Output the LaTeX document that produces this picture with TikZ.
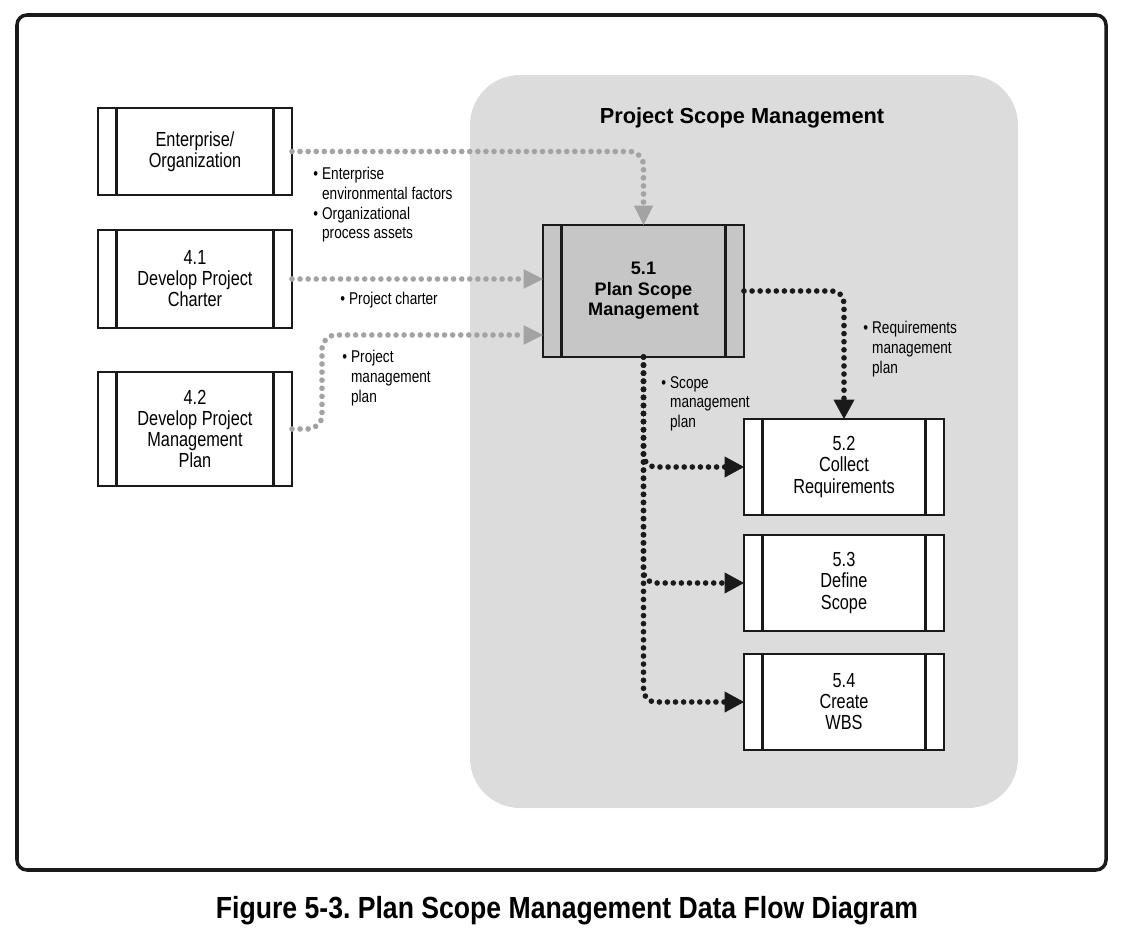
\documentclass[tikz,border=0pt]{standalone}
\usepackage{fontspec}
\setmainfont{Liberation Sans}
\newfontfamily\narrowfont[FakeStretch=0.8]{Liberation Sans}
\newfontfamily\capfont[FakeStretch=0.87]{Liberation Sans}
\usetikzlibrary{arrows.meta}
\frenchspacing

\definecolor{areagray}{HTML}{DCDCDC}
\definecolor{boxgray}{HTML}{C6C6C6}
\definecolor{flowgray}{HTML}{A3A3A3}
\definecolor{flowblack}{HTML}{1A1A1A}

\newcommand{\bul}{\makebox[5pt][l]{\textbullet}}
\newcommand{\nobul}{\hspace*{5pt}}

\tikzset{
    process/.style={draw=flowblack, line width=1.6pt, fill=white, inner sep=0, outer sep=0,
                    minimum width=3.88cm, align=center,
                    font=\narrowfont\fontsize{11.6}{12}\selectfont},
    note/.style={anchor=north west, inner sep=0, align=left,
                 font=\narrowfont\fontsize{9.7}{11.2}\selectfont},
    grayflow/.style={draw=flowgray, line width=3.2pt, line cap=round,
                     dash pattern=on 0pt off 4.6pt, rounded corners=0.28cm,
                     -{Triangle[length=11pt, width=11pt, fill=flowgray, line width=0pt]}},
    blackflow/.style={draw=flowblack, line width=3.2pt, line cap=round,
                      dash pattern=on 0pt off 4.6pt, rounded corners=0.24cm,
                      -{Triangle[length=11pt, width=12pt, fill=flowblack, line width=0pt]}}
}

\begin{document}
\begin{tikzpicture}[x=0.02cm, y=-0.02cm]
        \useasboundingbox (0, 0) rectangle (1133, 945);

        % Frame:
        \draw[line width=2pt, color=flowblack, rounded corners=0.2cm] (17, 15) rectangle (1106, 870);

        % Scope area:
        \fill[areagray, rounded corners=1cm] (470, 75) rectangle (1018, 808);
        \node[font=\bfseries\fontsize{12.4}{14}\selectfont] (title) at (742, 118) {Project Scope Management};

        % Processes:
        \node[process, minimum height=1.74cm] (ent) at (195, 151.5) {Enterprise/\\Organization};
        \node[process, minimum height=1.96cm] (c41) at (195, 279) {4.1\\Develop Project\\Charter};
        \node[process, minimum height=2.28cm] (c42) at (195, 429) {4.2\\Develop Project\\Management\\Plan};
        \node[process, fill=boxgray, minimum width=4.02cm, minimum height=2.64cm,
              font=\bfseries\fontsize{10.3}{11.6}\selectfont] (p51) at (643.5, 291) {5.1\\Plan Scope\\Management};
        \node[process, minimum width=4cm, minimum height=1.92cm] (p52) at (844, 467) {5.2\\Collect\\Requirements};
        \node[process, minimum width=4cm, minimum height=1.92cm] (p53) at (844, 583) {5.3\\Define\\Scope};
        \node[process, minimum width=4cm, minimum height=1.92cm] (p54) at (844, 702) {5.4\\Create\\WBS};

        % Side bars:
        \foreach \n in {ent, c41, c42, p51, p52, p53, p54} {
            \draw[line width=1.6pt, color=flowblack] ([xshift=0.37cm]\n.north west) -- ([xshift=0.37cm]\n.south west);
            \draw[line width=1.6pt, color=flowblack] ([xshift=-0.37cm]\n.north east) -- ([xshift=-0.37cm]\n.south east);
        }

        % Inputs:
        \coordinate (in42) at ([yshift=-0.88cm]p51.west);
        \coordinate (bend42) at (322, 335);
        \draw[grayflow] (ent.east) -| (p51.north);
        \draw[grayflow] (c41.east) -- (c41.east -| p51.west);
        \draw[grayflow] (c42.east) -| (bend42) -- (in42);

        % Outputs:
        \draw[blackflow] (p51.east) -| (p52.north);
        \foreach \n in {p52, p53, p54}
            \draw[blackflow] (p51.south) |- (\n.west);

        % Flow labels:
        \node[note] (lent) at (313, 167) {\bul Enterprise\\\nobul environmental factors\\\bul Organizational\\\nobul process assets};
        \node[note] (lc41) at (340, 292) {\bul Project charter};
        \node[note] (lc42) at (342, 350) {\bul Project\\\nobul management\\\nobul plan};
        \node[note] (lreq) at (863, 321) {\bul Requirements\\\nobul management\\\nobul plan};
        \node[note] (lscope) at (661, 376) {\bul Scope\\\nobul management\\\nobul plan};

        % Caption:
        \node[font=\capfont\bfseries\fontsize{17.4}{20}\selectfont] (cap) at (567, 911) {Figure 5-3. Plan Scope Management Data Flow Diagram};
    \end{tikzpicture}
\end{document}
